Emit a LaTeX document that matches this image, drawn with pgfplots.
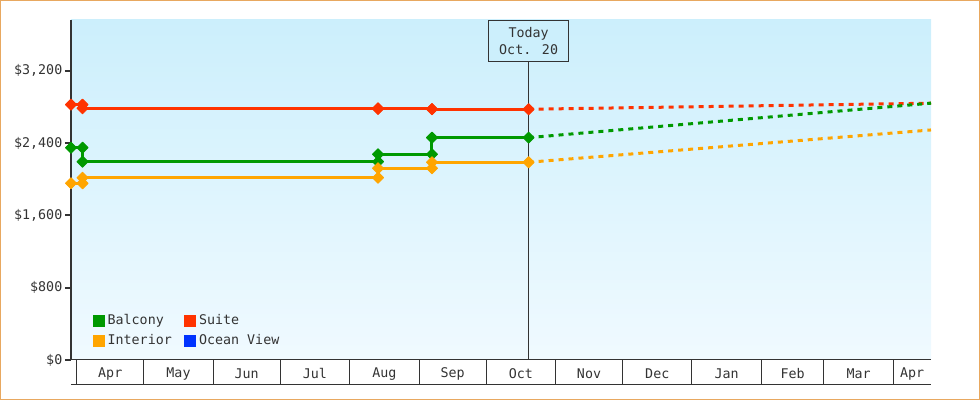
\documentclass[border=0pt]{standalone}
\usepackage{fontspec}
\setmainfont{DejaVu Sans Mono}
\usepackage{pgfplots}
\pgfplotsset{compat=1.18}
\definecolor{cgreen}{RGB}{0,153,0}
\definecolor{cred}{RGB}{255,51,0}
\definecolor{corange}{RGB}{255,165,0}
\definecolor{cblue}{RGB}{0,51,255}
\definecolor{cdark}{RGB}{51,51,51}
\definecolor{bgtop}{RGB}{204,239,252}
\definecolor{bgbot}{RGB}{240,250,255}
\definecolor{cborder}{RGB}{232,168,96}
\begin{document}
\begin{tikzpicture}[font=\fontsize{10}{12}\selectfont]
\begin{axis}[
  name=ax,
  scale only axis, width=645pt, height=255pt,
  xmin=-2.55, xmax=381.85, ymin=0, ymax=3760,
  axis x line=bottom, axis y line=left,
  x axis line style={-, line width=0.75pt, cdark},
  y axis line style={-, line width=1.5pt, cdark},
  clip=false,
  axis background/.style={top color=bgtop, bottom color=bgbot},
  tick align=outside,
  major tick length=4.5pt,
  ytick={0,800,1600,2400,3200},
  yticklabels={\$0,\$800,{\$1,600},{\$2,400},{\$3,200}},
  ytick style={line width=1.5pt, cdark},
  yticklabel style={xshift=1.5pt},
  tick label style={text=cdark},
  xtick={15,45.5,76,106.5,137.5,168,198.5,229,259.5,290.5,320,349.5,373.4},
  xticklabels={Apr,May,Jun,Jul,Aug,Sep,Oct,Nov,Dec,Jan,Feb,Mar,Apr},
  xtick style={draw=none},
  xticklabel style={anchor=center, yshift=-5.8pt},
  legend columns=2,
  legend cell align=left,
  legend image code/.code={\fill[#1] (0pt,-4.125pt) rectangle (8.25pt,4.125pt);},
  legend style={at={(0.025,0.032)}, anchor=south west, draw=none, fill=none,
    inner sep=0pt, row sep=3.5pt,
    nodes={inner sep=1pt, text height=7.5pt, text depth=2pt, text=cdark}},
  /tikz/every odd column/.append style={column sep=1.5pt},
  /tikz/every even column/.append style={column sep=8.25pt},
]
% forecasts (dashed)
\addplot[forget plot, cred, line width=2.25pt, dash pattern=on 3.75pt off 3.75pt] coordinates {(202,2773) (381.85,2840)};
\addplot[forget plot, cgreen, line width=2.25pt, dash pattern=on 3.75pt off 3.75pt] coordinates {(202,2459) (381.85,2840)};
\addplot[forget plot, corange, line width=2.25pt, dash pattern=on 3.75pt off 3.75pt] coordinates {(202,2187) (381.85,2544)};
% history
\addplot[forget plot, cred, line width=2.25pt, mark=square*, mark size=2.9pt,
  mark options={rotate=45, line width=0.75pt, solid, line join=round}]
  coordinates {(-2.55,2824) (2.6,2824) (2.6,2784) (134.7,2784) (134.7,2776) (158.8,2776) (158.8,2773) (202,2773)};
\addplot[forget plot, cgreen, line width=2.25pt, mark=square*, mark size=2.9pt,
  mark options={rotate=45, line width=0.75pt, solid, line join=round}]
  coordinates {(-2.55,2348) (2.6,2348) (2.6,2193) (134.7,2193) (134.7,2275) (158.8,2275) (158.8,2459) (202,2459)};
\addplot[forget plot, corange, line width=2.25pt, mark=square*, mark size=2.9pt,
  mark options={rotate=45, line width=0.75pt, solid, line join=round}]
  coordinates {(-2.55,1954) (2.6,1954) (2.6,2016) (134.7,2016) (134.7,2120) (158.8,2120) (158.8,2187) (202,2187)};
\addlegendimage{cgreen}\addlegendentry{Balcony}
\addlegendimage{cred}\addlegendentry{Suite}
\addlegendimage{corange}\addlegendentry{Interior}
\addlegendimage{cblue}\addlegendentry{Ocean View}
% today marker
\draw[cdark, line width=0.75pt] (axis cs:202,0) -- (axis cs:202,3760);
\node[draw=cdark, line width=0.75pt, fill=bgtop, anchor=north, minimum width=60pt,
  minimum height=30.5pt, align=center, inner sep=1pt, text=cdark,
  font=\fontsize{10}{12.75}\selectfont] at (axis cs:202,3760) {Today\\Oct. 20};
% month cell separators and bottom line
\pgfplotsinvokeforeach{0,30,61,91,122,153,183,214,244,275,306,334,365}{
  \draw[cdark, line width=0.75pt] (axis cs:#1,0) -- ([yshift=-18.75pt]axis cs:#1,0);
}
\draw[cdark, line width=0.75pt] ([yshift=-18.75pt]rel axis cs:0,0) -- ([yshift=-18.75pt]rel axis cs:1,0);
\end{axis}
\pgfresetboundingbox
\draw[cborder, line width=0.75pt] ([xshift=-52.875pt,yshift=-29.625pt]ax.south west) rectangle ([xshift=36.375pt,yshift=14.625pt]ax.north east);
\end{tikzpicture}
\end{document}
